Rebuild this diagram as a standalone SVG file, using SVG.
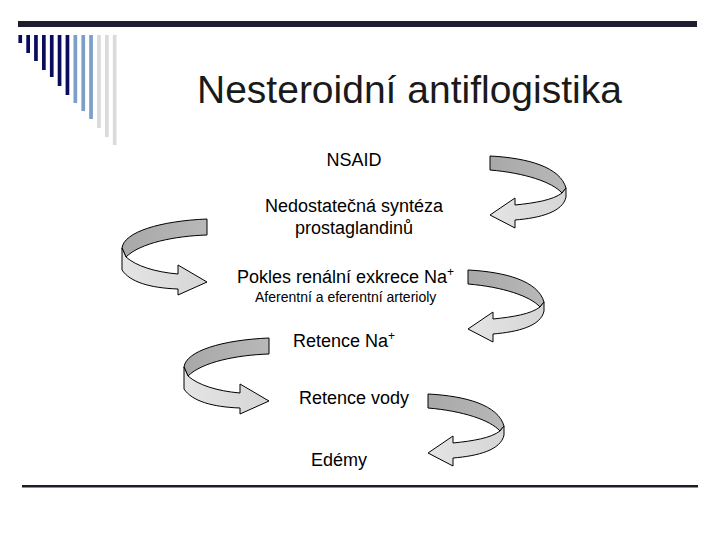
<svg xmlns="http://www.w3.org/2000/svg" width="720" height="540" viewBox="0 0 720 540">
<defs>
<style>
text{font-family:"Liberation Sans",Arial,sans-serif;fill:#000}
.lbl{font-size:18px}
.small{font-size:14px}
.sup{font-size:12px}
.dk{fill:url(#gDark);stroke:#000;stroke-width:1;stroke-linejoin:round}
.lt{fill:url(#gLight);stroke:#000;stroke-width:1;stroke-linejoin:round}
.nv{fill:#0c0c5e}.bl{fill:#7b9fc5}.gr{fill:#dadada}
</style>
<linearGradient id="gDark" x1="0" y1="0" x2="1" y2="0">
<stop offset="0" stop-color="#a8a8a8"/><stop offset="1" stop-color="#b8b8b8"/>
</linearGradient>
<linearGradient id="gLight" x1="0" y1="0" x2="1" y2="0">
<stop offset="0" stop-color="#e4e4e4"/><stop offset="1" stop-color="#d6d6d6"/>
</linearGradient>
<g id="arrowL">
<path class="dk" d="M490,156 C528,158 560,167 566,188 L562,193 C552,182 525,173 490,170 Z"/>
<path class="lt" d="M566,188 L566,197 C563,212 540,218 515,220 L515,228 L490,215 L515,198 L515,205 C535,203 553,200 562,193 Z"/>
</g>
<g id="arrowR">
<path class="dk" d="M207,219 L207,235 C175,236 140,243 126,257 L122,248 C124,232 160,221 207,219 Z"/>
<path class="lt" d="M122,248 L122,270 C130,282 150,288 178,289 L178,295 L207,282 L178,265 L178,274 C155,272 136,266 126,257 Z"/>
</g>
</defs>
<rect width="720" height="540" fill="#fff"/>
<g id="decor">
<rect x="18" y="21" width="679" height="6" fill="#1e1e30"/>
<rect class="nv" x="18.4" y="35" width="3.7" height="8"/>
<rect class="nv" x="26.3" y="35" width="3.7" height="18"/>
<rect class="nv" x="34.1" y="35" width="3.7" height="26"/>
<rect class="nv" x="42" y="35" width="3.7" height="35"/>
<rect class="nv" x="49.9" y="35" width="3.7" height="42"/>
<rect class="nv" x="57.7" y="35" width="3.7" height="51"/>
<rect class="nv" x="65.6" y="35" width="3.7" height="60"/>
<rect class="bl" x="73.5" y="35" width="3.7" height="68"/>
<rect class="bl" x="81.4" y="35" width="3.7" height="76"/>
<rect class="bl" x="89.2" y="35" width="3.7" height="84"/>
<rect class="gr" x="97.1" y="35" width="3.7" height="93"/>
<rect class="gr" x="105" y="35" width="3.7" height="102"/>
<rect class="gr" x="112.8" y="35" width="3.7" height="110"/>
<rect x="22" y="485" width="676" height="2.5" fill="#1e1e28"/>
</g>
<g id="title"><text x="197" y="103" font-size="39" fill="#1a1a1a" style="fill:#1a1a1a">Nesteroidní antiflogistika</text></g>
<g id="connectors">
<use href="#arrowL"/>
<use href="#arrowR"/>
<use href="#arrowL" transform="translate(-22,114)"/>
<use href="#arrowR" transform="translate(62,119)"/>
<use href="#arrowL" transform="translate(-62,238)"/>
</g>
<g id="n1"><text class="lbl" x="354" y="166" text-anchor="middle">NSAID</text></g>
<g id="n2"><text class="lbl" x="354" y="212" text-anchor="middle">Nedostatečná syntéza</text><text class="lbl" x="354" y="234" text-anchor="middle">prostaglandinů</text></g>
<g id="n3"><text class="lbl" x="237" y="283">Pokles renální exkrece Na<tspan class="sup" dy="-7">+</tspan></text><text class="small" x="255" y="302">Aferentní a eferentní arterioly</text></g>
<g id="n4"><text class="lbl" x="293" y="347">Retence Na<tspan class="sup" dy="-7">+</tspan></text></g>
<g id="n5"><text class="lbl" x="299" y="404">Retence vody</text></g>
<g id="n6"><text class="lbl" x="311" y="466">Edémy</text></g>
</svg>
